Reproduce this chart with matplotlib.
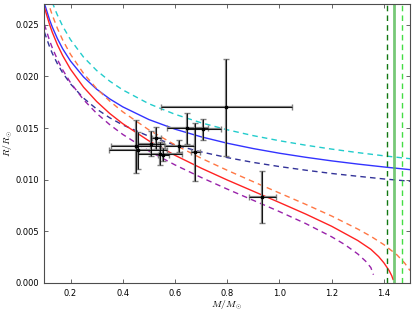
import numpy as np
import matplotlib.pyplot as plt

# observed stars: mass, radius and their errors
m_obs = [0.451, 0.459, 0.509, 0.528, 0.541, 0.556, 0.617, 0.678, 0.647, 0.709, 0.797, 0.935]
r_obs = [0.01322, 0.01284, 0.01349, 0.01403, 0.01252, 0.01242, 0.01327, 0.01267, 0.01499, 0.01486, 0.01702, 0.00833]
m_err = [0.095, 0.11, 0.05, 0.017, 0.084, 0.02, 0.056, 0.016, 0.078, 0.067, 0.25, 0.05]
r_err = [0.0026, 0.0018, 0.0012, 0.0011, 0.0011, 0.0006, 0.0006, 0.0028, 0.0015, 0.001, 0.0047, 0.0025]

# model curves
m_grid = [0.10, 0.12, 0.13, 0.15, 0.17, 0.20, 0.25, 0.30, 0.35, 0.40, 0.50, 0.60, 0.70,
          0.80, 0.90, 1.00, 1.10, 1.20, 1.30, 1.40, 1.50]
r_blue = [0.02706, 0.02546, 0.02479, 0.02364, 0.02267, 0.02148, 0.01994, 0.01876, 0.01782,
          0.01705, 0.01582, 0.01489, 0.01415, 0.01353, 0.01301, 0.01256, 0.01217, 0.01182,
          0.01151, 0.01123, 0.01097]
r_navy = [0.02428, 0.02285, 0.02224, 0.02121, 0.02034, 0.01927, 0.01789, 0.01684, 0.01599,
          0.01530, 0.01420, 0.01336, 0.01269, 0.01214, 0.01167, 0.01127, 0.01092, 0.01060,
          0.01033, 0.01007, 0.00985]

m_cyan = [0.13, 0.14, 0.15, 0.17, 0.20, 0.25, 0.30, 0.35, 0.40, 0.50, 0.60, 0.70, 0.80,
          0.90, 1.00, 1.10, 1.20, 1.30, 1.40, 1.50]
r_cyan = [0.02718, 0.02652, 0.02592, 0.02486, 0.02355, 0.02186, 0.02057, 0.01954, 0.01869,
          0.01735, 0.01633, 0.01551, 0.01483, 0.01426, 0.01377, 0.01334, 0.01296, 0.01262,
          0.01231, 0.01203]

m_red = [0.10, 0.12, 0.13, 0.15, 0.17, 0.20, 0.25, 0.30, 0.35, 0.40, 0.50, 0.60, 0.70,
         0.80, 0.90, 1.00, 1.10, 1.20, 1.30, 1.35, 1.38, 1.40, 1.42, 1.43, 1.435]
r_red = [0.02667, 0.02500, 0.02428, 0.02305, 0.02201, 0.02069, 0.01895, 0.01757, 0.01641,
         0.01542, 0.01376, 0.01236, 0.01112, 0.00997, 0.00888, 0.00779, 0.00668, 0.00549,
         0.00411, 0.00326, 0.00255, 0.00195, 0.00120, 0.00070, 0.00035]

m_orange = [0.11, 0.12, 0.13, 0.15, 0.17, 0.20, 0.25, 0.30, 0.35, 0.40, 0.50, 0.60, 0.70,
            0.80, 0.90, 1.00, 1.10, 1.20, 1.30, 1.35, 1.40, 1.45, 1.48, 1.50]
r_orange = [0.02754, 0.02670, 0.02594, 0.02463, 0.02352, 0.02213, 0.02028, 0.01882, 0.01761,
            0.01657, 0.01482, 0.01337, 0.01208, 0.01091, 0.00980, 0.00871, 0.00762, 0.00648,
            0.00522, 0.00452, 0.00371, 0.00272, 0.00191, 0.00120]

m_purple = [0.10, 0.12, 0.13, 0.15, 0.17, 0.20, 0.25, 0.30, 0.35, 0.40, 0.50, 0.60, 0.70,
            0.80, 0.90, 1.00, 1.10, 1.20, 1.25, 1.30, 1.33, 1.35, 1.36]
r_purple = [0.02503, 0.02345, 0.02278, 0.02162, 0.02063, 0.01939, 0.01774, 0.01642, 0.01533,
            0.01438, 0.01278, 0.01143, 0.01022, 0.00909, 0.00800, 0.00691, 0.00576, 0.00447,
            0.00372, 0.00281, 0.00211, 0.00149, 0.00080]

# Chandrasekhar limit and its spread
m_limit = 1.44
m_limit_err = 0.03


def main():
    plt.rcParams['font.size'] = 6
    plt.rcParams['mathtext.fontset'] = 'cm'

    fig = plt.figure(figsize=(4.15, 3.12), dpi=100)
    ax = fig.add_axes([0.107, 0.093, 0.881, 0.894])

    dash = (0, (4, 3))
    ax.plot(m_cyan, r_cyan, color='#22cccc', ls=dash, lw=1)
    ax.plot(m_grid, r_blue, color='#3333ff', lw=1)
    ax.plot(m_grid, r_navy, color='#333399', ls=dash, lw=1)
    ax.plot(m_orange, r_orange, color='#ff7744', ls=dash, lw=1)
    ax.plot(m_red, r_red, color='#ff2222', lw=1)
    ax.plot(m_purple, r_purple, color='#9922aa', ls=dash, lw=1)

    ax.axvline(m_limit - m_limit_err, color='#117711', ls=dash, lw=1)
    ax.axvline(m_limit, color='#55bb55', lw=2, alpha=0.8)
    ax.axvline(m_limit + m_limit_err, color='#44dd44', ls=dash, lw=1)

    ax.errorbar(m_obs, r_obs, xerr=m_err, yerr=r_err, fmt='none',
                ecolor='0.5', elinewidth=1.6, capsize=2, capthick=1)
    ax.errorbar(m_obs, r_obs, xerr=m_err, yerr=r_err, fmt='ks', ms=1.8,
                ecolor='k', elinewidth=0.6, capsize=0)

    ax.set_xlim(0.1, 1.5)
    ax.set_ylim(0, 0.027)
    ax.set_xticks([0.2, 0.4, 0.6, 0.8, 1.0, 1.2, 1.4])
    ax.set_yticks([0.0, 0.005, 0.010, 0.015, 0.020, 0.025])
    ax.yaxis.set_major_formatter(plt.FormatStrFormatter('%.3f'))
    ax.tick_params(direction='in', top=True, right=True, length=3, width=0.6,
                   color='0.3', pad=4)
    for s in ax.spines.values():
        s.set_color('0.3')

    ax.set_xlabel(r'$M/M_\odot$', fontsize=7, labelpad=1)
    ax.set_ylabel(r'$R/R_\odot$', fontsize=7, labelpad=0)

    fig.savefig('out.png', dpi=100)


if __name__ == "__main__":
    main()
